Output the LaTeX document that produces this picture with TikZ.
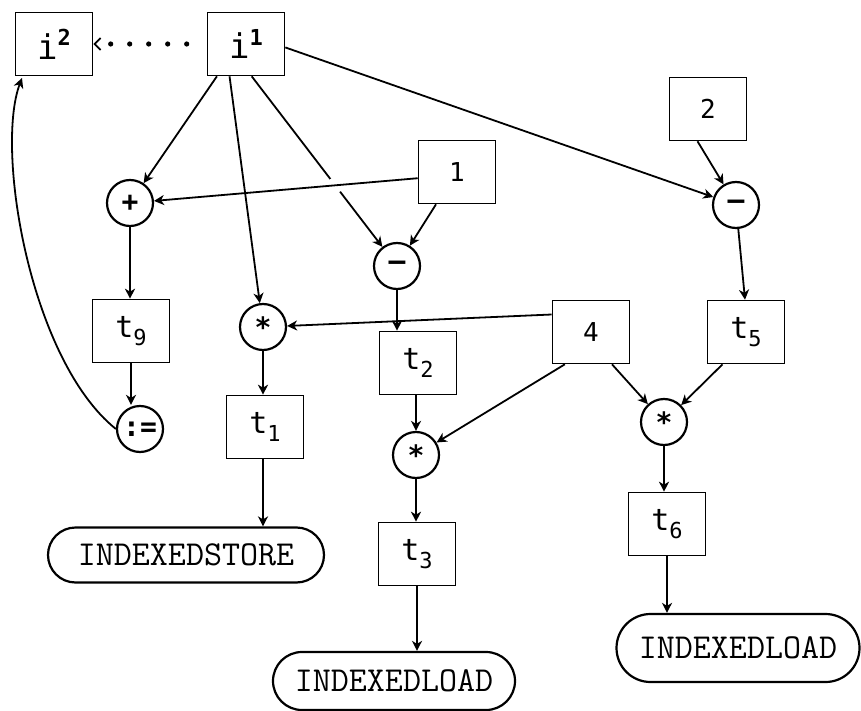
\documentclass[tikz,border=0pt]{standalone}
\usepackage{fontspec}
\newfontfamily\gothic{DejaVu Sans Mono}
\usetikzlibrary{arrows.meta,shapes.misc,intersections}
% temporary with subscript, variable with superscript
\newcommand\tsub[1]{t\raisebox{-0.45ex}{\fontsize{11}{11}\selectfont #1}}
\newcommand\isup[1]{i\raisebox{0.75ex}{\fontsize{11}{11}\selectfont\bfseries #1}}
\begin{document}
\begin{tikzpicture}[x=0.5pt,y=-0.5pt,
  box/.style={draw,line width=0.8pt,minimum width=38.5pt,minimum height=31.5pt,
    inner sep=0pt,font=\gothic\fontsize{15}{15}\selectfont},
  numbox/.style={box,font=\gothic\fontsize{13}{13}\selectfont},
  varbox/.style={box,font=\gothic\fontsize{17}{17}\selectfont},
  op/.style={draw,circle,line width=1.1pt,minimum size=23pt,inner sep=0pt,
    font=\gothic\bfseries\fontsize{14}{14}\selectfont},
  blob/.style={draw,rounded rectangle,line width=1.1pt,inner sep=0pt,
    font=\ttfamily\fontsize{17.5}{18}\selectfont},
  edge/.style={line width=0.9pt,-{Stealth[length=5pt,width=5pt,inset=1.5pt]}},
  dots/.style={line width=2.6pt,line cap=round,dash pattern=on 0pt off 9.5pt,
    shorten <=10pt,-{Straight Barb[length=3pt,width=6pt,line width=0.9pt]}},
]
\useasboundingbox (0,0) rectangle (861,711);

% variables and constants
\node[varbox] (i2)  at (54,44)   {\isup{2}};
\node[varbox] (i1)  at (246,44)  {\isup{1}};
\node[numbox] (two) at (708,109) {2};
\node[numbox] (one) at (457,172) {1};
\node[numbox] (four) at (591,332) {4};

% operators
\node[op] (plus)   at (130,203) {+};
\node[op] (minusR) at (736,205) {–};
\node[op] (minusM) at (397,266) {–};
\node[op] (starL)  at (263,327) {*};
\node[op] (assign) at (140,429) {:=};
\node[op] (starM)  at (416,455) {*};
\node[op] (starR)  at (664,422) {*};

% temporaries
\node[box] (tnine)  at (131,331) {\tsub{9}};
\node[box] (tfive)  at (746,332) {\tsub{5}};
\node[box] (ttwo)   at (418,363) {\tsub{2}};
\node[box] (tone)   at (265,427) {\tsub{1}};
\node[box] (tthree) at (417,554) {\tsub{3}};
\node[box] (tsix)   at (667,524) {\tsub{6}};

% memory operations
\node[blob,minimum width=138pt,minimum height=27.5pt] (store) at (186,555) {INDEXEDSTORE};
\node[blob,minimum width=121pt,minimum height=29pt]   (loadM) at (394,681) {INDEXEDLOAD};
\node[blob,minimum width=121.5pt,minimum height=34pt] (loadR) at (738,648) {INDEXEDLOAD};

% copy i1 -> i2
\draw[dots] (i1.west) -- (i2.east);

% uses of i1
\draw[edge] (i1.228) -- (plus);
\draw[edge] (i1.243) -- (starL);
\draw[edge,name path=diag] (i1.280) -- (minusM);
\draw[edge] (i1.355) -- (minusR);

% constant 1 feeding + and -, drawn over the diagonal with a gap
\path[name path=horiz] (one.189) -- (plus);
\fill[white,name intersections={of=diag and horiz,by=cross}] (cross) circle (8);
\draw[edge] (one.189) -- (plus);
\draw[edge] (one.237) -- (minusM);
\draw[edge] (two.252) -- (minusR);

% results into temporaries
\draw[edge] (plus) -- (plus |- tnine.north);
\draw[edge] (minusR) -- (tfive.north -| 745,0);
\draw[edge] (minusM) -- (minusM |- ttwo.north);
\draw[edge] (starL) -- (starL |- tone.north);
\draw[edge] (starM) -- (starM |- tthree.north);
\draw[edge] (starR) -- (starR |- tsix.north);

% constant 4 scaling
\draw[edge] (four.156) -- (starL);
\draw[edge] (four.231) -- (starM);
\draw[edge] (four.303) -- (starR);
\draw[edge] (tfive.234) -- (starR);
\draw[edge] (ttwo.south -| starM) -- (starM);

% assignment back to i2
\draw[edge] (tnine.south) -- (tnine.south |- assign.north);
\draw[edge] (assign.west) .. controls (30,360) and (-5,150) .. (22,78);

% memory accesses
\draw[edge] (tone.south -| starL) -- (store.north -| starL);
\draw[edge] (tthree.south) -- (loadM.north -| tthree.south);
\draw[edge] (tsix.south) -- (loadR.north -| tsix.south);
\end{tikzpicture}
\end{document}
